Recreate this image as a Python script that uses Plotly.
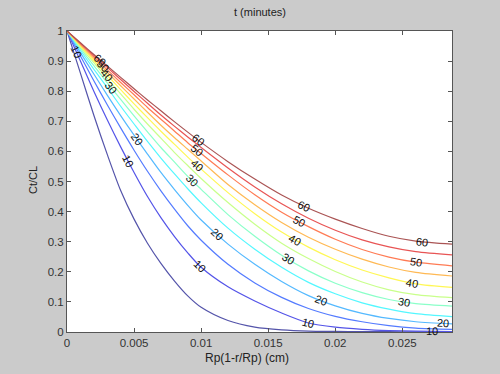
import numpy as np
import plotly.graph_objects as go

# ---- data (x in cm, y = Ct/CL) ----
x_cm = [0, 0.001, 0.002, 0.003, 0.004, 0.005, 0.006, 0.007, 0.008, 0.009, 0.010,
        0.012, 0.014, 0.016, 0.018, 0.020, 0.022, 0.024, 0.026, 0.0287]

t_levels = [5, 10, 15, 20, 25, 30, 35, 40, 45, 50, 55, 60]

c_t5 = [1, 0.86, 0.72, 0.59, 0.47, 0.375, 0.295, 0.228, 0.17, 0.12, 0.082,
        0.038, 0.016, 0.007, 0.003, 0.002, 0.001, 0.001, 0.0005, 0.0]
c_t10 = [1, 0.90, 0.80, 0.705, 0.615, 0.53, 0.45, 0.38, 0.318, 0.263, 0.215,
         0.15, 0.103, 0.063, 0.030, 0.016, 0.009, 0.005, 0.003, 0.001]
c_t15 = [1, 0.917, 0.835, 0.755, 0.678, 0.604, 0.534, 0.469, 0.409, 0.353, 0.305,
         0.225, 0.163, 0.115, 0.078, 0.052, 0.034, 0.021, 0.013, 0.009]
c_t20 = [1, 0.928, 0.857, 0.787, 0.719, 0.654, 0.591, 0.530, 0.474, 0.421, 0.372,
         0.292, 0.225, 0.168, 0.121, 0.087, 0.062, 0.045, 0.034, 0.027]
c_t25 = [1, 0.936, 0.873, 0.812, 0.750, 0.691, 0.633, 0.578, 0.526, 0.476, 0.429,
         0.345, 0.275, 0.215, 0.165, 0.127, 0.097, 0.076, 0.061, 0.051]
c_t30 = [1, 0.942, 0.885, 0.828, 0.773, 0.718, 0.665, 0.613, 0.565, 0.517, 0.474,
         0.39, 0.318, 0.255, 0.203, 0.162, 0.131, 0.108, 0.094, 0.086]
c_t35 = [1, 0.947, 0.895, 0.842, 0.791, 0.740, 0.691, 0.644, 0.597, 0.553, 0.510,
         0.43, 0.358, 0.295, 0.244, 0.201, 0.166, 0.140, 0.124, 0.114]
c_t40 = [1, 0.951, 0.902, 0.853, 0.805, 0.758, 0.712, 0.667, 0.624, 0.581, 0.541,
         0.463, 0.393, 0.332, 0.282, 0.240, 0.206, 0.180, 0.160, 0.148]
c_t45 = [1, 0.954, 0.909, 0.863, 0.818, 0.774, 0.730, 0.687, 0.646, 0.607, 0.568,
         0.49, 0.423, 0.364, 0.315, 0.275, 0.242, 0.216, 0.198, 0.186]
c_t50 = [1, 0.957, 0.914, 0.871, 0.829, 0.788, 0.746, 0.707, 0.668, 0.629, 0.593,
         0.522, 0.456, 0.398, 0.350, 0.308, 0.274, 0.249, 0.232, 0.220]
c_t55 = [1, 0.959, 0.919, 0.879, 0.839, 0.799, 0.760, 0.721, 0.684, 0.648, 0.613,
         0.545, 0.482, 0.426, 0.378, 0.338, 0.306, 0.283, 0.267, 0.256]
c_t60 = [1, 0.961, 0.922, 0.884, 0.846, 0.808, 0.771, 0.735, 0.699, 0.664, 0.630,
         0.566, 0.508, 0.455, 0.411, 0.375, 0.344, 0.318, 0.302, 0.292]

curves = [c_t5, c_t10, c_t15, c_t20, c_t25, c_t30,
          c_t35, c_t40, c_t45, c_t50, c_t55, c_t60]

# where the contour labels sit (x positions along each labelled curve)
label_x = {
    10: [0.0007, 0.00455, 0.0099, 0.018, 0.0272],
    20: [0.0052, 0.01117, 0.0189, 0.028],
    30: [0.0033, 0.0093, 0.0165, 0.0251],
    40: [0.00296, 0.00968, 0.017, 0.0257],
    50: [0.0027, 0.00968, 0.01726, 0.026],
    60: [0.00246, 0.0098, 0.01764, 0.0265],
}

x_ticks = [0, 0.005, 0.01, 0.015, 0.02, 0.025]
x_ticklabels = ["0", "0.005", "0.01", "0.015", "0.02", "0.025"]
y_ticks = [0, 0.1, 0.2, 0.3, 0.4, 0.5, 0.6, 0.7, 0.8, 0.9, 1]
y_ticklabels = ["0", "0.1", "0.2", "0.3", "0.4", "0.5", "0.6", "0.7", "0.8", "0.9", "1"]

# ---- styling ----
W, H = 500, 374
ML, MR, MT, MB = 67, 48, 31, 42
XR = [0, 0.0287]
YR = [0, 1]
FONT = "Liberation Sans, Arial, sans-serif"
BG = "#cbcbcb"


def jet(f):
    r = np.clip(1.5 - abs(4 * f - 3), 0, 1)
    g = np.clip(1.5 - abs(4 * f - 2), 0, 1)
    b = np.clip(1.5 - abs(4 * f - 1), 0, 1)
    return r, g, b


def soft(rgb, w=0.33):
    r, g, b = [int(round(255 * (c * (1 - w) + w))) for c in rgb]
    return f"rgb({r},{g},{b})"


fig = go.Figure()
n = len(t_levels)
for i, (t, c) in enumerate(zip(t_levels, curves)):
    fig.add_trace(go.Scatter(
        x=x_cm, y=c, mode="lines", name=f"{t}",
        line=dict(color=soft(jet(i / (n - 1))), width=1.2,
                  shape="spline", smoothing=0.8),
        hoverinfo="skip", showlegend=False))

# contour labels
pw = W - ML - MR
ph = H - MT - MB
sx = pw / (XR[1] - XR[0])
sy = ph / (YR[1] - YR[0])
annotations = []
for t, xs in label_x.items():
    c = np.array(curves[t_levels.index(t)], dtype=float)
    xa = np.array(x_cm, dtype=float)
    slope = np.gradient(c, xa)
    for xl in xs:
        yl = float(np.interp(xl, xa, c))
        s = float(np.interp(xl, xa, slope))
        ang = float(np.degrees(np.arctan(-s * sy / sx)))
        annotations.append(dict(
            x=xl, y=yl, xref="x", yref="y", text=str(t), showarrow=False,
            textangle=ang, font=dict(family=FONT, size=11, color="#111111"),
            xanchor="center", yanchor="middle"))

annotations += [
    dict(text="t (minutes)", x=0.5, y=(H - MB - 12) / ph, xref="paper", yref="paper",
         showarrow=False, font=dict(family=FONT, size=11, color="#222222"),
         xanchor="center", yanchor="middle"),
    dict(text="Rp(1-r/Rp) (cm)", x=(247 - ML) / pw, y=-(358 - (H - MB)) / ph,
         xref="paper", yref="paper", showarrow=False,
         font=dict(family=FONT, size=12, color="#222222"),
         xanchor="center", yanchor="middle"),
    dict(text="Ct/CL", x=-(ML - 33) / pw, y=(H - MB - 180) / ph,
         xref="paper", yref="paper", showarrow=False, textangle=-90,
         font=dict(family=FONT, size=11, color="#222222"),
         xanchor="center", yanchor="middle"),
]

axis_common = dict(showline=True, linecolor="#555555", linewidth=1, mirror="ticks",
                   ticks="inside", ticklen=4, tickcolor="#555555", showgrid=False,
                   zeroline=False, tickfont=dict(family=FONT, size=11.5, color="#333333"))

fig.update_layout(
    width=W, height=H, margin=dict(l=ML, r=MR, t=MT, b=MB),
    paper_bgcolor=BG, plot_bgcolor="white",
    xaxis=dict(range=XR, tickvals=x_ticks, ticktext=x_ticklabels, **axis_common),
    yaxis=dict(range=YR, tickvals=y_ticks, ticktext=y_ticklabels, **axis_common),
    annotations=annotations,
    showlegend=False,
)

fig.write_html("out.html",
               config={"displayModeBar": False, "staticPlot": True},
               post_script="document.body.style.margin='0';"
                           "document.body.style.background='" + BG + "';")
